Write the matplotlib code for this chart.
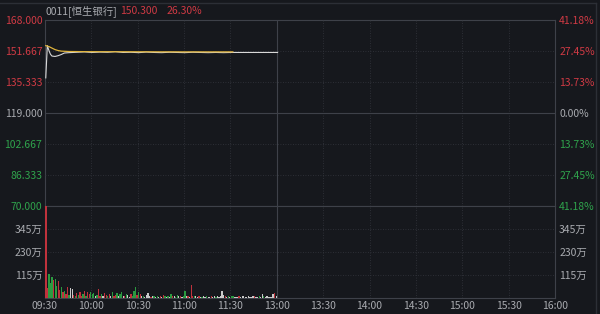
import numpy as np
import matplotlib
matplotlib.use('Agg')
import matplotlib.pyplot as plt

plt.rcParams['font.family'] = ['Noto Sans CJK SC', 'DejaVu Sans']

# --- data ---
time_labels = ['09:30', '10:00', '10:30', '11:00', '11:30', '13:00',
               '13:30', '14:00', '14:30', '15:00', '15:30', '16:00']
prev_close = 119.0
price_ticks = [70.0, 86.333, 102.667, 119.0, 135.333, 151.667, 168.0]
pct_labels = ['41.18%', '27.45%', '13.73%', '0.00%', '13.73%', '27.45%', '41.18%']
vol_ticks = [115, 230, 345]

price_min = [0, 1, 2, 3, 4, 6, 8, 10, 12, 15, 20, 25, 30, 35, 40, 45, 50, 55,
             60, 65, 70, 75, 80, 85, 90, 95, 100, 105, 110, 115, 120, 135, 150]
price = [137.5, 154.5, 152.0, 150.0, 149.0, 148.8, 149.2, 149.8, 150.6, 150.8,
         151.0, 151.2, 150.9, 151.1, 151.0, 151.3, 150.9, 151.0, 150.8, 151.1,
         150.9, 150.8, 151.0, 150.9, 150.8, 151.0, 150.9, 150.8, 150.9, 150.8,
         150.9, 150.9, 150.9]
avg_min = [0, 2, 4, 6, 8, 10, 15, 30, 60, 90, 121]
avg = [154.5, 154.0, 153.2, 152.4, 151.9, 151.6, 151.4, 151.3, 151.25, 151.2, 151.2]

volume = [480, 50, 120, 75, 105, 90, 95, 60, 85, 40, 55, 30, 35, 20, 55, 15, 50, 45, 15, 10,
          25, 15, 30, 10, 20, 35, 12, 28, 18, 30, 20, 25, 10, 15, 45, 12, 20, 8, 25, 15,
          10, 20, 8, 30, 12, 15, 25, 10, 18, 30, 8, 12, 20, 15, 6, 20, 10, 35, 55, 15,
          30, 20, 8, 10, 5, 15, 25, 10, 6, 12, 8, 5, 10, 4, 8, 6, 15, 10, 5, 12,
          6, 20, 8, 10, 6, 15, 8, 12, 5, 10, 35, 8, 10, 6, 65, 12, 8, 10, 5, 8,
          6, 4, 8, 5, 10, 6, 4, 12, 6, 8, 5, 10, 6, 8, 33, 15, 10, 6, 8, 5,
          8, 12, 6, 4, 5, 8, 6, 10, 8, 6, 4, 10, 5, 6, 8, 10, 6, 5, 8, 6,
          18, 10, 6, 8, 5, 6, 4, 20, 27, 10]
vol_dir = list('rrgggrggrrgrgrrgwwrg'
               'rgrrgrgrrgggwgrrgwrr'
               'grwgrrgwggwrgwwrgggr'
               'grwgwwwwrwgwgwrwrgwg'
               'wgrwggwrwggwrwrrgwwr'
               'wgwwgwwrwwgwwwwwrwgw'
               'ggwwwrwwwwwwwwwrwwgw'
               'wgwwwwwwrw')

# --- figure ---
bg = '#16181d'
grid_c = '#34373e'
solid_c = '#3e4149'
red = '#cf3a44'
green = '#2fa34c'
grey = '#a9abb0'
bar_cols = {'r': '#c0323c', 'g': '#2b9a40', 'w': '#c9c9c9'}

fig = plt.figure(figsize=(6, 3.14), dpi=100, facecolor=bg)
ax = fig.add_axes([0.075, 0.344, 0.85, 0.5923], facecolor=bg)
axv = fig.add_axes([0.075, 0.051, 0.85, 0.293], facecolor=bg)

xt = np.arange(0, 331, 30)
for a in (ax, axv):
    a.set_xlim(0, 330)
    for s in a.spines.values():
        s.set_color(solid_c)
        s.set_linewidth(0.8)
        s.set_zorder(1)
    for x in xt[1:-1]:
        if x == 150:
            a.axvline(x, color=solid_c, lw=0.8)
        else:
            a.axvline(x, color=grid_c, lw=0.6, ls=(0, (1, 2)))
    a.tick_params(length=0)

# price panel
ax.set_ylim(70, 168)
for y in price_ticks[1:-1]:
    if y == prev_close:
        ax.axhline(y, color=solid_c, lw=0.8)
    else:
        ax.axhline(y, color=grid_c, lw=0.6, ls=(0, (1, 2)))
ax.plot(np.array(price_min) + 0.5, price, color='#d8d8d8', lw=0.8, zorder=4)
ax.plot(np.array(avg_min) + 0.5, avg, color='#e0b43c', lw=0.9, zorder=4)
ax.set_xticks([])
ax.set_yticks(price_ticks)
ax.set_yticklabels(['%.3f' % v for v in price_ticks], fontsize=7.5)
for lab, v in zip(ax.get_yticklabels(), price_ticks):
    lab.set_color(red if v > prev_close else (green if v < prev_close else grey))
ax.tick_params(axis='y', pad=2)

axr = ax.twinx()
axr.set_ylim(70, 168)
axr.set_yticks(price_ticks)
axr.set_yticklabels(pct_labels[::-1], fontsize=7.5)
for lab, v in zip(axr.get_yticklabels(), price_ticks):
    lab.set_color(red if v > prev_close else (green if v < prev_close else grey))
axr.tick_params(length=0, pad=3)
for s in axr.spines.values():
    s.set_visible(False)

# volume panel
axv.set_ylim(0, 460)
for y in vol_ticks:
    axv.axhline(y, color=grid_c, lw=0.6, ls=(0, (1, 2)))
mins = np.arange(len(volume))
axv.bar(mins + 0.6, volume, width=0.8, color=[bar_cols[c] for c in vol_dir],
        lw=0, zorder=4)
axv.set_yticks(vol_ticks)
axv.set_yticklabels(['%d万' % v for v in vol_ticks], fontsize=7.5, color=grey)
axv.tick_params(axis='y', pad=2)
axvr = axv.twinx()
axvr.set_ylim(0, 460)
axvr.set_yticks(vol_ticks)
axvr.set_yticklabels(['%d万' % v for v in vol_ticks], fontsize=7.5, color=grey)
axvr.tick_params(length=0, pad=3)
for s in axvr.spines.values():
    s.set_visible(False)
axv.set_xticks(xt)
axv.set_xticklabels(time_labels, fontsize=7.5, color=grey)
axv.tick_params(axis='x', pad=2)

# header
fig.text(0.075, 0.965, '0011[恒生银行]', color=grey, fontsize=7.5, va='center')
fig.text(0.2, 0.965, '150.300', color=red, fontsize=7.5, va='center')
fig.text(0.277, 0.965, '26.30%', color=red, fontsize=7.5, va='center')
fig.add_artist(plt.Line2D([0, 0.993], [0.99, 0.99], color='#2c2f36', lw=1))
fig.add_artist(plt.Line2D([0.993, 0.993], [0, 0.99], color='#2c2f36', lw=1))

fig.savefig('out.png', dpi=100, facecolor=bg)
